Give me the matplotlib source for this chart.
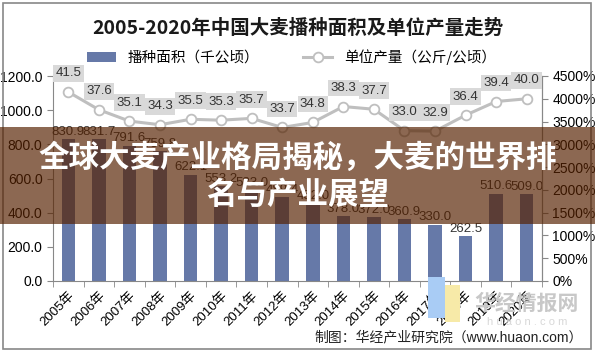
import matplotlib.pyplot as plt
from matplotlib.patches import Rectangle
from matplotlib.ticker import FuncFormatter, FixedLocator

plt.rcParams['font.family'] = ['Liberation Sans', 'Noto Sans CJK SC']

years = ['2005年', '2006年', '2007年', '2008年', '2009年', '2010年', '2011年', '2012年',
         '2013年', '2014年', '2015年', '2016年', '2017年', '2018年', '2019年', '2020年']
area = [830.9, 831.7, 791.6, 759.8, 622.1, 553.2, 533.0, 489.4,
        452.0, 378.0, 372.0, 360.9, 330.0, 262.5, 510.6, 509.0]
yield_ = [41.5, 37.6, 35.1, 34.3, 35.5, 35.3, 35.7, 33.7,
          34.8, 38.3, 37.7, 33.0, 32.9, 36.4, 39.4, 40.0]

W, H = 595, 353
fig = plt.figure(figsize=(W / 100, H / 100), dpi=100)

def fx(px):
    return px / W

def fy(py):
    return 1 - py / H

ax = fig.add_axes([fx(53), fy(281), fx(542) - fx(53), fy(76) - fy(281)])
x = list(range(len(years)))
bars = ax.bar(x, area, width=0.44, color='#6679A8', label='播种面积（千公顷）', zorder=2)
ax.set_xlim(-0.5, len(years) - 0.5)
ax.set_ylim(0, 1200)
ax.set_yticks(range(0, 1201, 200))
ax.yaxis.set_major_formatter(FuncFormatter(lambda v, p: f'{v:.1f}'))
ax.set_xticks(x)
ax.set_xticklabels(years, rotation=45, ha='right', rotation_mode='anchor', fontsize=9.5)
ax.xaxis.set_minor_locator(FixedLocator([i - 0.5 for i in range(len(years) + 1)]))
ax.tick_params(axis='x', which='major', length=0, pad=6)
ax.tick_params(axis='x', which='minor', length=4, color='#888888')
ax.tick_params(axis='y', length=4, color='#888888', labelsize=10)
ax.spines['top'].set_visible(False)
for s in ['left', 'bottom', 'right']:
    ax.spines[s].set_color('#888888')

for xi, v in zip(x, area):
    ax.text(xi, v + 8, f'{v:.1f}', ha='center', va='bottom', fontsize=9.5, color='#333333')

ax2 = ax.twinx()
ax2.set_ylim(0, 45)
ax2.set_yticks(range(0, 46, 5))
ax2.yaxis.set_major_formatter(FuncFormatter(lambda v, p: f'{v * 100:.0f}%'))
ax2.tick_params(axis='y', length=4, color='#888888', labelsize=10)
for s in ['top', 'left', 'bottom']:
    ax2.spines[s].set_visible(False)
ax2.spines['right'].set_color('#888888')
line, = ax2.plot(x, yield_, color='#BFBFBF', lw=2.2, marker='o', ms=7,
                 mfc='white', mec='#BFBFBF', mew=1.3, label='单位产量（公斤/公顷）', zorder=3)
for xi, v in zip(x, yield_):
    ax2.annotate(f'{v:.1f}', (xi, v), xytext=(0, 9), textcoords='offset points',
                 ha='center', va='bottom', fontsize=9.5, color='#333333',
                 bbox=dict(boxstyle='square,pad=0.18', fc='#D9D9D9', ec='none'))

fig.text(0.5, fy(28), '2005-2020年中国大麦播种面积及单位产量走势', ha='center', va='center',
         fontsize=14, fontweight='bold', color='#1a1a1a', family=['Noto Sans CJK SC'])
fig.legend(handles=[bars, line], loc='center', bbox_to_anchor=(0.49, fy(57)), ncol=2,
           frameon=False, handlelength=2.0, columnspacing=3,
           prop={'family': ['Noto Sans CJK SC'], 'size': 10.5})

# watermark
fig.patches.append(Rectangle((fx(428), fy(318)), fx(17), fy(277) - fy(318),
                             transform=fig.transFigure, fc='#A9CCF5', ec='none', zorder=0))
fig.patches.append(Rectangle((fx(445), fy(322)), fx(15), fy(285) - fy(322),
                             transform=fig.transFigure, fc='#F7EAA8', ec='none', zorder=0))
fig.text(fx(527), fy(303), '华经情报网', ha='center', va='center', fontsize=15,
         fontweight='bold', color='#C8C8C8', family=['Noto Sans CJK SC'])
fig.text(fx(527), fy(322), 'h u a o n . c o m', ha='center', va='center', fontsize=8,
         color='#D8D8D8')
fig.text(fx(583), fy(337), '制图：华经产业研究院（www.huaon.com）', ha='right', va='center',
         fontsize=10, color='#222222')

# outer border
fig.patches.append(Rectangle((fx(3), fy(349)), fx(588), fy(3) - fy(349),
                             transform=fig.transFigure, fc='none', ec='#888888', lw=1.2))

# banner overlay
fig.patches.append(Rectangle((0, fy(224)), 1, fy(127) - fy(224), transform=fig.transFigure,
                             fc='#562100', alpha=0.68, ec='none', zorder=10))
fig.text(0.5, fy(158), '全球大麦产业格局揭秘，大麦的世界排', ha='center', va='center',
         fontsize=22, fontweight='heavy', color='white', family=['Noto Sans CJK SC'], zorder=11)
fig.text(0.5, fy(195), '名与产业展望', ha='center', va='center',
         fontsize=22, fontweight='heavy', color='white', family=['Noto Sans CJK SC'], zorder=11)

fig.savefig('out.png', dpi=100)
